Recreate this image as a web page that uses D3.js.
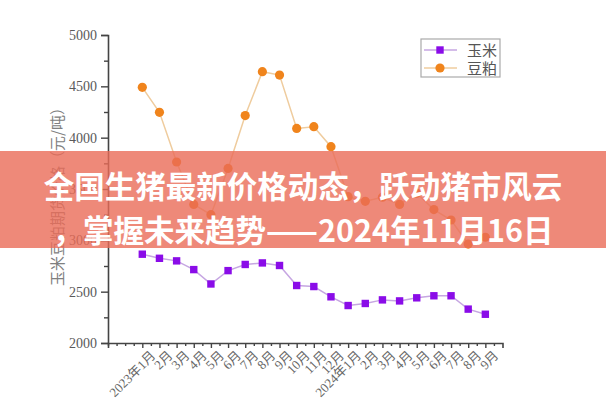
<!DOCTYPE html>
<html><head><meta charset="utf-8">
<script src="https://cdn.jsdelivr.net/npm/d3@7/dist/d3.min.js"></script>
<style>html,body{margin:0;padding:0;background:#fff;}svg{display:block;}</style>
</head><body>
<script>
const months = ["2023年1月","2月","3月","4月","5月","6月","7月","8月","9月","10月","11月","12月",
  "2024年1月","2月","3月","4月","5月","6月","7月","8月","9月"];
const corn = [2865,2825,2800,2715,2575,2705,2765,2780,2755,2560,2550,2450,2365,2385,2420,2410,2440,2460,2460,2330,2280];
const meal = [4490,4247,3763,3350,3250,3700,4215,4643,4610,4090,4107,3912,3425,3380,3420,3350,3458,3300,3198,2964,3030];
const yTicks = [2000,2500,3000,3500,4000,4500,5000];
const seriesNames = ["玉米","豆粕"];
const yTitle = "玉米豆粕期货价格（元/吨）";
const bannerLines = ["全国生猪最新价格动态，跃动猪市风云","，掌握未来趋势——2024年11月16日"];

const W=606,H=400;
const svg=d3.select("body").append("svg").attr("width",W).attr("height",H);
const x=d3.scaleLinear().domain([-2,21]).range([108,502.5]);
const y=d3.scaleLinear().domain([2000,5000]).range([343,35]);
const serif="'Liberation Serif','Times New Roman','Noto Sans CJK SC',serif";
const axisCol="#444";

// y axis
const gy=svg.append("g").attr("transform","translate(108,0)");
gy.call(d3.axisLeft(y).tickValues(yTicks).tickSize(7).tickPadding(4).tickFormat(d3.format("d")));
gy.append("g").call(d3.axisLeft(y).tickValues(d3.range(2250,5000,500)).tickSize(4).tickFormat(""));
gy.selectAll(".domain").attr("stroke",axisCol).attr("stroke-width",1.6);
gy.selectAll("g g .domain").remove();
gy.selectAll("line").attr("stroke",axisCol).attr("stroke-width",1.4);
gy.selectAll("text").attr("font-family",serif).attr("font-size",14).attr("fill","#5a5a5a");

// x axis
const gx=svg.append("g").attr("transform","translate(0,343)");
gx.call(d3.axisBottom(x).tickValues(d3.range(0,21)).tickSize(5).tickPadding(3).tickFormat(i=>months[i]));
gx.append("g").call(d3.axisBottom(x).tickValues(d3.range(-1.5,21,1).concat([-2,-1])).tickSize(3).tickFormat(""));
gx.selectAll("g g .domain").remove();
gx.selectAll(".domain").attr("stroke",axisCol).attr("stroke-width",1.6);
gx.selectAll("line").attr("stroke",axisCol).attr("stroke-width",1.4);
gx.selectAll(".tick text").attr("font-family",serif).attr("font-size",13).attr("fill","#666")
  .attr("text-anchor","end").attr("dy","0.3em")
  .attr("transform","translate(5,5) rotate(-45)");

// y title
svg.append("text").attr("transform","translate(56,193) rotate(-90)")
  .attr("text-anchor","middle").attr("dominant-baseline","central")
  .attr("font-family","'Noto Sans CJK SC',sans-serif").attr("font-weight",400)
  .attr("font-size",15).attr("fill","#808080").text(yTitle);

const idx=d3.range(months.length);
const line=arr=>d3.line().x(i=>x(i)).y(i=>y(arr[i]))(idx);
const cornCol="#8a0ce8", cornLine="#c6a6e2", mealCol="#f0841c", mealLine="#efcc9e";

svg.append("path").attr("d",line(meal)).attr("fill","none").attr("stroke",mealLine).attr("stroke-width",1.5);
svg.append("path").attr("d",line(corn)).attr("fill","none").attr("stroke",cornLine).attr("stroke-width",1.5);
svg.selectAll(".m").data(idx).enter().append("circle")
  .attr("cx",i=>x(i)).attr("cy",i=>y(meal[i])).attr("r",4.6).attr("fill",mealCol);
svg.selectAll(".c").data(idx).enter().append("rect")
  .attr("x",i=>x(i)-3.7).attr("y",i=>y(corn[i])-3.7).attr("width",7.4).attr("height",7.4).attr("fill",cornCol);

// legend
const lg=svg.append("g");
lg.append("rect").attr("x",421).attr("y",39).attr("width",79).attr("height",38)
  .attr("fill","#fff").attr("stroke","#aaa").attr("stroke-width",1.2);
const lgText=lg.append("text").attr("font-family","'Noto Sans CJK SC',sans-serif").attr("font-weight",400)
  .attr("font-size",15).attr("fill","#555");
[[cornCol,cornLine,"rect"],[mealCol,mealLine,"circle"]].forEach((s,k)=>{
  const yy=50+k*18;
  lg.append("line").attr("x1",424).attr("x2",457).attr("y1",yy).attr("y2",yy).attr("stroke",s[1]).attr("stroke-width",1.5);
  if(s[2]==="rect") lg.append("rect").attr("x",440-3.7).attr("y",yy-3.7).attr("width",7.4).attr("height",7.4).attr("fill",s[0]);
  else lg.append("circle").attr("cx",440).attr("cy",yy).attr("r",4.6).attr("fill",s[0]);
  lgText.append("tspan").attr("x",467).attr("y",yy+5.5).text(seriesNames[k]);
});

// banner
svg.append("rect").attr("x",0).attr("y",151).attr("width",W).attr("height",97)
  .attr("fill","rgb(234,108,88)").attr("opacity",0.8);
bannerLines.forEach((t,k)=>{
  svg.append("text").attr("x",303).attr("y",198+k*44).attr("text-anchor","middle")
    .attr("font-family","'Noto Sans CJK SC',sans-serif").attr("font-weight",700)
    .attr("font-size",30.5).attr("fill","#fff").text(t);
});
</script>
</body></html>
